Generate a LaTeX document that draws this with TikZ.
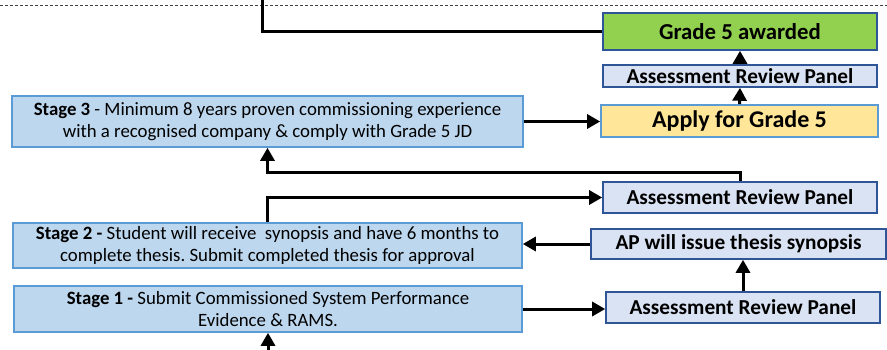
\documentclass[tikz,border=0pt]{standalone}
\usepackage{fontspec}
\setmainfont{Carlito}
\usetikzlibrary{arrows.meta}
\frenchspacing
\definecolor{stagefill}{HTML}{BDD7EE}
\definecolor{stageline}{HTML}{5B9BD5}
\definecolor{panelfill}{HTML}{DAE3F3}
\definecolor{panelline}{HTML}{2F5597}
\definecolor{greenfill}{HTML}{92D050}
\definecolor{applyfill}{HTML}{FFE699}
\tikzset{
  basebox/.style={rectangle, inner sep=0pt, align=center, text=black},
  stagebox/.style={basebox, fill=stagefill, draw=stageline, line width=1.6pt,
    font=\fontsize{18.8}{21.7}\selectfont},
  panelbox/.style={basebox, fill=panelfill, draw=panelline, line width=1.6pt,
    font=\bfseries\fontsize{21.3}{24}\selectfont},
  greenbox/.style={basebox, fill=greenfill, draw=panelline, line width=1.6pt,
    font=\bfseries\fontsize{22.8}{26}\selectfont},
  applybox/.style={basebox, fill=applyfill, draw=stageline, line width=1.6pt,
    font=\bfseries\fontsize{24}{28}\selectfont},
  conn/.style={line width=3pt, black},
  arr/.style={conn, -{Triangle[length=13pt,width=14pt]}},
}
\begin{document}
\begin{tikzpicture}[x=1pt,y=-1pt]
\useasboundingbox (0,0) rectangle (887,350);
% dashed separator
\coordinate (dl) at (0,5);
\coordinate (dr) at (887,5);
\draw[dashed, dash pattern=on 3pt off 2pt, line width=0.9pt, black!75] (dl) -- (dr);
% boxes
\node[greenbox, minimum width=274pt, minimum height=37pt] (grade) at (740,31.5) {Grade 5 awarded};
\node[panelbox, minimum width=274pt, minimum height=22pt] (arpa) at (740,76) {Assessment Review Panel};
\node[applybox, minimum width=277pt, minimum height=32pt] (apply) at (739.5,121) {Apply for Grade 5};
\node[stagebox, minimum width=511pt, minimum height=51pt] (stage3) at (267.5,121.5)
  {\textbf{Stage 3} - Minimum 8 years proven commissioning experience\\with a recognised company \& comply with Grade 5 JD};
\node[panelbox, minimum width=274pt, minimum height=31pt] (arpb) at (740,197.5) {Assessment Review Panel};
\node[panelbox, minimum width=295pt, minimum height=30pt] (ap) at (738.5,244) {AP will issue thesis synopsis};
\node[stagebox, minimum width=509pt, minimum height=45pt] (stage2) at (267.5,245.5)
  {\textbf{Stage 2 -} Student will receive\ \ synopsis and have 6 months to\\complete thesis. Submit completed thesis for approval};
\node[stagebox, minimum width=508pt, minimum height=46pt] (stage1) at (268,309)
  {\textbf{Stage 1 -} Submit Commissioned System Performance\\Evidence \& RAMS.};
\node[panelbox, minimum width=274pt, minimum height=31pt] (arpc) at (743,307.5) {Assessment Review Panel};
% free ends
\coordinate (topc) at (262,0);
\coordinate (botc) at (268,350);
% connectors
\draw[conn] (topc) |- (grade.west);
\draw[arr] (botc) -- (botc |- stage1.south);
\draw[arr] (stage1.east) -- (stage1.east -| arpc.west);
\draw[arr] (arpc.north) -- (arpc.north |- ap.south);
\draw[arr] (ap.west) -- (ap.west -| stage2.east);
\draw[arr] (stage2.north) |- (arpb.west);
\draw[arr] (arpb.north) -- ++(0,-9) -| (stage3.south);
\draw[arr] (stage3.east) -- (stage3.east -| apply.west);
\draw[arr] (apply.north) -- (arpa.south);
\draw[arr] (arpa.north) -- (grade.south);
\end{tikzpicture}
\end{document}
